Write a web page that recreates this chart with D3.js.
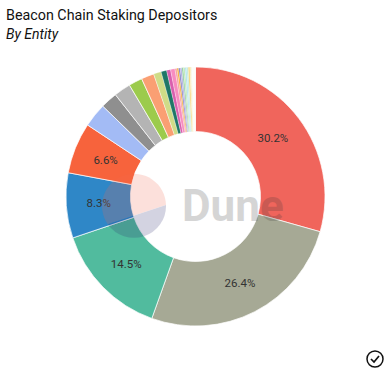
<!DOCTYPE html>
<html>
<head>
<meta charset="utf-8">
<script src="https://d3js.org/d3.v7.min.js"></script>
<style>
  body { margin: 0; background: #fff; }
  svg { display: block; font-family: Roboto, sans-serif; }
</style>
</head>
<body>
<div id="chart"></div>
<script>
var shares = [29.5, 26.2, 14.4, 8.15, 6.4, 3.0, 2.1, 2.1, 1.7, 1.6, 0.95, 0.7, 0.5, 0.55, 0.25, 0.2, 0.2, 0.2, 0.2, 0.2, 0.2, 0.2, 0.2, 0.15, 0.15, 0.4];
var colors = ["#f0655c", "#a6a995", "#51bb9e", "#2f87c7", "#f7633c", "#a3bbf5", "#8f8f8f", "#b4b4b4", "#9ccb4c", "#fa9f73", "#cfdc87", "#1f7767", "#d95fae", "#f78cc0", "#f4a3a0", "#f5a623", "#7d7bc4", "#a9a6e0", "#8fcf9a", "#b9e6b0", "#a8dff0", "#bfe9d8", "#f5d36c", "#f7e9a8", "#f5f5e0", "#fdfdf8"];
// printed labels of the five biggest slices
var labels = ["30.2%", "26.4%", "14.5%", "8.3%", "6.6%"];

var width = 389, height = 373;
var cx = 195.5, cy = 196.5;
var outer = 129.5, inner = 65;

var svg = d3.select("#chart").append("svg")
    .attr("width", width)
    .attr("height", height);

// title
svg.append("text")
    .attr("x", 6).attr("y", 20)
    .attr("font-size", 14.3)
    .attr("fill", "#111")
    .text("Beacon Chain Staking Depositors");
svg.append("text")
    .attr("x", 6).attr("y", 39)
    .attr("font-size", 14)
    .attr("font-style", "italic")
    .attr("fill", "#111")
    .text("By Entity");

var pie = d3.pie().sort(null).value(function(d) { return d; });
var arc = d3.arc().innerRadius(inner).outerRadius(outer);
var labelArc = d3.arc().innerRadius(97).outerRadius(97);
var arcs = pie(shares);

var g = svg.append("g")
    .attr("transform", "translate(" + cx + "," + cy + ")");

// thin slices get a thinner stroke or the white eats their colour
g.selectAll("path")
    .data(arcs)
    .enter().append("path")
    .attr("d", arc)
    .attr("fill", function(d, i) { return colors[i]; })
    .attr("stroke", "#fff")
    .attr("stroke-width", function(d) { return d.value < 1 ? 0.3 : 0.7; });

g.selectAll("text")
    .data(arcs.slice(0, labels.length))
    .enter().append("text")
    .attr("transform", function(d) { return "translate(" + labelArc.centroid(d) + ")"; })
    .attr("text-anchor", "middle")
    .attr("dy", "0.35em")
    .attr("font-size", 11.5)
    .attr("fill", "#333")
    .text(function(d, i) { return labels[i]; });

// watermark on top of the chart
var logo = svg.append("g").attr("opacity", 0.2);

function logoPart(a0, a1) {
  var p = d3.path();
  p.arc(134, 205.8, 32, a0, a1);
  p.closePath();
  return p.toString();
}

logo.append("path")
    .attr("d", logoPart(2.53, 2 * Math.PI - 0.025))
    .attr("fill", "#f4694f");
logo.append("path")
    .attr("d", logoPart(-0.025, 2.53))
    .attr("fill", "#2a2a6c");
logo.append("text")
    .attr("x", 182).attr("y", 221)
    .attr("font-size", 44)
    .attr("font-weight", 700)
    .attr("fill", "#333")
    .text("Dune");

// check icon, bottom right
var check = svg.append("g").attr("transform", "translate(375,359)");
check.append("circle")
    .attr("r", 8).attr("fill", "none").attr("stroke", "#111").attr("stroke-width", 1.5);
check.append("path")
    .attr("d", "M-4,0L-1,3L4,-3")
    .attr("fill", "none").attr("stroke", "#111").attr("stroke-width", 1.7);
</script>
</body>
</html>
